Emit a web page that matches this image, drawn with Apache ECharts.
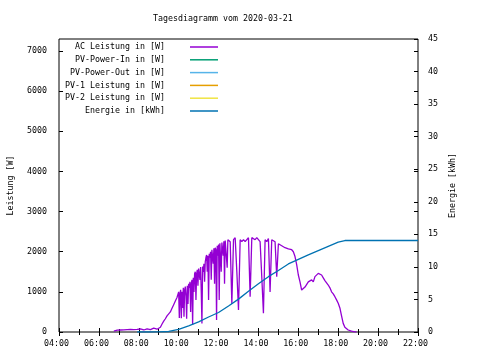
<!DOCTYPE html>
<html><head><meta charset="utf-8">
<script src="https://cdn.jsdelivr.net/npm/echarts@6/dist/echarts.min.js"></script>
<style>html,body{margin:0;padding:0;background:#fff}#c{width:480px;height:360px}</style>
</head><body><div id="c"></div>
<script>
const chartTitle = "Tagesdiagramm vom 2020-03-21";
const leftAxisName = "Leistung [W]";
const rightAxisName = "Energie [kWh]";
const seriesNames = ["AC Leistung in [W]", "PV-Power-In in [W]", "PV-Power-Out in [W]", "PV-1 Leistung in [W]", "PV-2 Leistung in [W]", "Energie in [kWh]"];
const xTickLabels = ["04:00","06:00","08:00","10:00","12:00","14:00","16:00","18:00","20:00","22:00"];
const leftTickLabels = ["0","1000","2000","3000","4000","5000","6000","7000"];
const rightTickLabels = ["0","5","10","15","20","25","30","35","40","45"];

const acTimes = [
"06:45","06:50","06:55",
"07:00","07:05","07:10","07:15","07:20","07:25","07:30","07:35","07:40","07:45","07:50","07:55",
"08:00","08:05","08:10","08:15","08:20","08:25","08:30","08:35","08:40","08:45","08:50","08:55",
"09:00","09:05","09:10","09:15","09:20","09:25","09:30","09:35","09:40","09:45","09:50","09:55",
"10:00","10:02","10:04","10:06","10:08","10:10","10:12","10:14","10:16","10:18",
"10:20","10:22","10:24","10:26","10:28","10:30","10:32","10:34","10:36","10:38",
"10:40","10:42","10:44","10:46","10:48","10:50","10:52","10:54","10:56","10:58",
"11:00","11:02","11:04","11:06","11:08","11:10","11:12","11:14","11:16","11:18",
"11:20","11:22","11:24","11:26","11:28","11:30","11:32","11:34","11:36","11:38",
"11:40","11:42","11:44","11:46","11:48","11:50","11:52","11:54","11:56","11:58",
"12:00","12:02","12:04","12:06","12:08","12:10","12:12","12:14","12:16","12:18",
"12:20","12:22","12:24","12:26","12:28",
"12:30","12:35","12:40","12:45","12:50","12:55",
"13:00","13:05","13:10","13:15","13:20","13:25","13:30","13:35","13:40","13:45","13:50","13:55",
"14:00","14:05","14:10","14:15","14:20","14:25","14:30","14:35","14:40","14:45","14:50","14:55",
"15:00","15:05","15:10","15:15","15:20","15:25","15:30","15:35","15:40","15:45","15:50","15:55",
"16:00","16:05","16:10","16:15","16:20","16:25","16:30","16:35","16:40","16:45","16:50","16:55",
"17:00","17:05","17:10","17:15","17:20","17:25","17:30","17:35","17:40","17:45","17:50","17:55",
"18:00","18:05","18:10","18:15","18:20","18:25","18:30","18:35","18:40","18:45","18:50","18:55"];
const acPower = [
20,40,45,
40,50,45,55,50,60,55,65,30,60,70,65,
40,75,80,50,85,80,90,60,95,95,100,70,
110,120,200,270,330,400,450,500,590,680,770,860,
1000,350,950,1050,340,1000,600,1100,380,1050,
1130,900,330,1150,700,1200,1100,1250,500,1200,
1300,175,1350,1000,1450,1500,800,1450,1550,1150,
1580,1600,1300,1620,1000,215,1630,1500,1700,1250,
1750,1850,1920,1500,1900,800,1950,1850,2000,1300,
2050,2080,1700,2085,1200,2100,2050,300,2150,1900,
2180,800,2210,2200,1500,2230,2250,1900,2260,1200,
2280,2250,2290,1600,2300,
2300,2250,700,2300,2350,1500,
550,2300,2250,2300,2250,2280,2350,880,2350,2380,2300,2350,
2300,2250,1380,465,2300,2250,2330,1000,2300,2280,2250,1380,
2200,2200,2150,2130,2100,2080,2070,2050,2050,2000,1880,1680,
1420,1250,1045,1005,1120,1080,1250,1250,1300,1250,1380,1420,
1460,1440,1420,1350,1280,1250,1170,1100,1000,950,880,800,
715,600,400,215,120,80,50,30,20,10,5,0];

const energyTimes = ["07:55","08:30","09:00","09:30","10:00","10:30","11:00","11:30","12:00","12:30","13:00","13:30","14:00","14:30","15:00","15:30","16:00","16:30","17:00","17:30","18:00","18:20","22:00"];
const energyKWh = [0,0,0.02,0.08,0.4,0.95,1.55,2.3,3.0,4.0,5.05,6.25,7.4,8.5,9.45,10.45,11.15,11.85,12.5,13.15,13.8,14.05,14.05];

const colors = ["#9400d3","#009e73","#56b4e9","#e69f00","#f0e442","#0072b2"];
const FONT = "DejaVu Sans Mono";
const FS = 8.3;

function toHours(s){const p=s.split(":");return +p[0]+ (+p[1])/60;}
const acData = acTimes.map((t,i)=>[toHours(t), acPower[i]]);
const energyData = energyTimes.map((t,i)=>[toHours(t), energyKWh[i]]);

const txt = {fontFamily: FONT, fontSize: FS, color: "#000"};

const series = seriesNames.map((n,i)=>({
  name: n, type: "line", symbol: "none", silent: true, animation: false,
  yAxisIndex: i === 5 ? 1 : 0,
  data: i === 0 ? acData : (i === 5 ? energyData : []),
  lineStyle: {color: colors[i], width: 1.3},
  itemStyle: {color: colors[i]}
}));

const chart = echarts.init(document.getElementById("c"), null, {renderer: "canvas"});
chart.setOption({
  animation: false,
  backgroundColor: "#fff",
  title: {text: chartTitle, left: 153, top: 15, padding: 0, textStyle: Object.assign({fontWeight: "normal"}, txt)},
  legend: {
    orient: "vertical", align: "right", right: 262, top: 42, padding: 0,
    icon: "rect", itemWidth: 28, itemHeight: 1.5, itemGap: 2.8,
    textStyle: Object.assign({padding: [0, 20, 0, 0], lineHeight: 10}, txt),
    data: seriesNames
  },
  grid: {left: 59, right: 62, top: 39, bottom: 28, show: true, borderColor: "#000", borderWidth: 1, containLabel: false, outerBoundsMode: "none"},
  xAxis: [{
    type: "value", min: 4, max: 22, interval: 2,
    axisLine: {show: false}, splitLine: {show: false},
    axisTick: {show: true, inside: true, length: 4, lineStyle: {color: "#000"}},
    minorTick: {show: true, splitNumber: 2, length: 3, lineStyle: {color: "#000"}},
    axisLabel: Object.assign({margin: 8, padding: [0, 5, 0, 0], formatter: v => xTickLabels[Math.round((v - 4) / 2)] || ""}, txt)
  }, {
    type: "value", position: "top", min: 4, max: 22, interval: 2,
    axisLine: {show: false}, splitLine: {show: false}, axisLabel: {show: false},
    axisTick: {show: true, inside: true, length: 4, lineStyle: {color: "#000"}},
    minorTick: {show: true, splitNumber: 2, length: 3, lineStyle: {color: "#000"}}
  }],
  yAxis: [{
    type: "value", min: 0, max: 7300, interval: 1000,
    name: leftAxisName, nameLocation: "middle", nameRotate: 90, nameGap: 44,
    nameTextStyle: txt,
    axisLine: {show: false}, splitLine: {show: false},
    axisTick: {show: true, inside: true, length: 4, lineStyle: {color: "#000"}},
    axisLabel: Object.assign({margin: 12, showMaxLabel: false, formatter: v => (v % 1000 === 0 ? leftTickLabels[v / 1000] : "")}, txt)
  }, {
    type: "value", position: "right", min: 0, max: 45, interval: 5,
    name: rightAxisName, nameLocation: "middle", nameRotate: 90, nameGap: 31,
    nameTextStyle: txt,
    axisLine: {show: false}, splitLine: {show: false},
    axisTick: {show: true, inside: true, length: 4, lineStyle: {color: "#000"}},
    axisLabel: Object.assign({margin: 10, formatter: v => rightTickLabels[Math.round(v / 5)] || ""}, txt)
  }, {
    type: "value", position: "right", min: 0, max: 7300, interval: 1000,
    axisLine: {show: false}, splitLine: {show: false}, axisLabel: {show: false},
    axisTick: {show: true, inside: true, length: 4, lineStyle: {color: "#000"}}
  }],
  series: series
});
</script></body></html>
